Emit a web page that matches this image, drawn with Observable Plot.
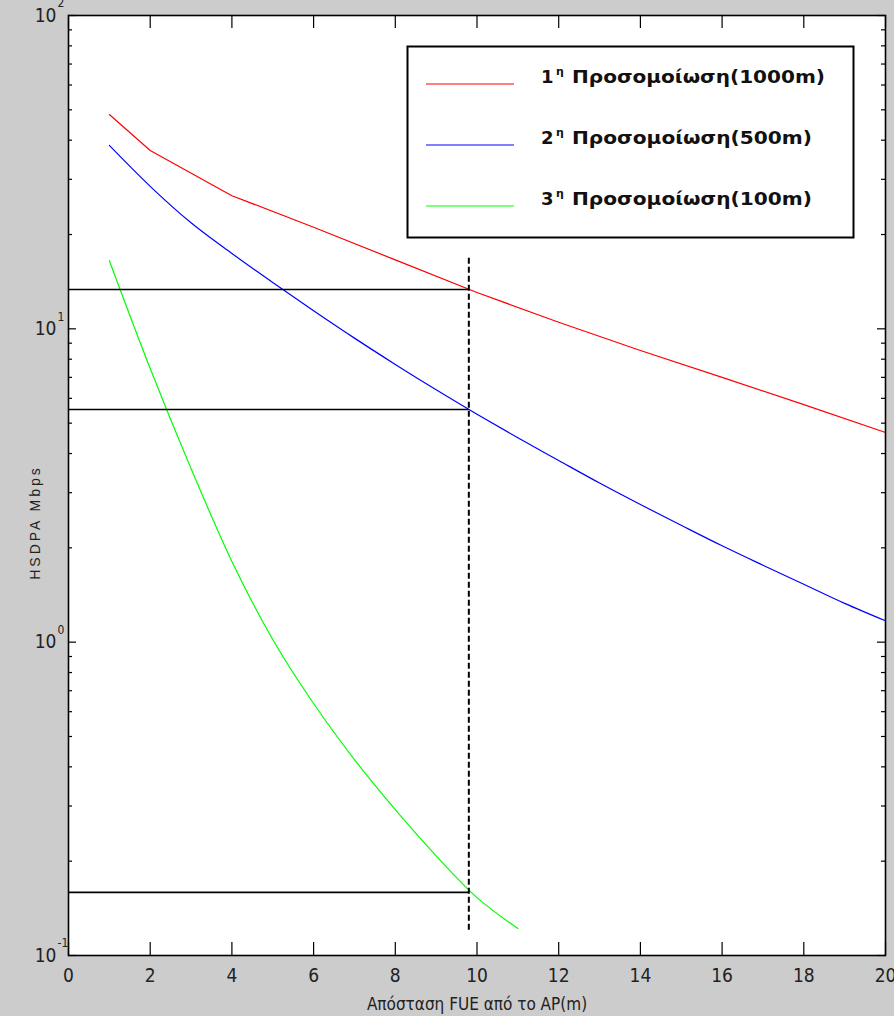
<!DOCTYPE html>
<html>
<head>
<meta charset="utf-8">
<script src="https://cdn.jsdelivr.net/npm/d3@7"></script>
<script src="https://cdn.jsdelivr.net/npm/@observablehq/plot@0.6"></script>
<style>
  html, body { margin: 0; padding: 0; background: #cccccc; }
  #wrap { position: relative; width: 894px; height: 1016px; overflow: hidden; }
</style>
</head>
<body>
<div id="wrap"></div>
<script>
// ---- data ----
const xTicks = [0, 2, 4, 6, 8, 10, 12, 14, 16, 18, 20];
const yMajor = [0.1, 1, 10, 100];
const yExponent = ["-1", "0", "1", "2"];
const yMinor = [0.2, 0.3, 0.4, 0.5, 0.6, 0.7, 0.8, 0.9,
                2, 3, 4, 5, 6, 7, 8, 9,
                20, 30, 40, 50, 60, 70, 80, 90];

const distance1000 = [1, 2, 4, 6, 8, 10, 12, 14, 16, 18, 20];
const sim1000 = [48.3, 37.1, 26.6, 21.1, 16.6, 13.06, 10.5, 8.53, 7.0, 5.73, 4.67];

const distance500 = [1, 2, 3, 4, 5, 6, 7, 8, 9, 10, 11, 12, 13, 14, 15, 16, 17, 18, 19, 20];
const sim500 = [38.5, 28.5, 21.8, 17.4, 14.05, 11.42, 9.34, 7.70, 6.39, 5.34,
                4.49, 3.80, 3.22, 2.75, 2.36, 2.03, 1.76, 1.53, 1.33, 1.17];

const distance100 = [1, 2, 3, 4, 5, 6, 7, 8, 9, 10, 11];
const sim100 = [16.5, 7.47, 3.58, 1.81, 1.02, 0.637, 0.422, 0.292, 0.208, 0.153, 0.122];

const refDistance = 9.8;
const refValues = [13.35, 5.53, 0.159];
const refSpan = [16.8, 0.118];

const legendNumbers = ["1", "2", "3"];
const legendSup = ["η", "η", "η"];
const legendNames = ["Προσομοίωση(1000m)", "Προσομοίωση(500m)", "Προσομοίωση(100m)"];
const seriesColors = ["#ff0000", "#0000ff", "#00ff00"];

const xLabel = "Απόσταση FUE από το AP(m)";
const yLabel = "HSDPA Mbps";

// ---- build ----
const toRows = (xs, ys) => xs.map((x, i) => ({x, y: ys[i]}));
const narrow = "'Liberation Sans Narrow', 'DejaVu Sans Condensed', 'Liberation Sans', Arial, sans-serif";

const W = 894, H = 1016, mT = 15, mL = 68, mR = 9, mB = 61;
const fw = W - mL - mR, fh = H - mT - mB;

const chart = Plot.plot({
  width: W, height: H,
  marginTop: mT, marginLeft: mL, marginRight: mR, marginBottom: mB,
  style: {background: "transparent", color: "black", overflow: "visible", fontFamily: narrow},
  x: {domain: [0, 20], axis: null},
  y: {type: "log", domain: [0.1, 100], axis: null},
  marks: [
    Plot.frame({fill: "white", stroke: null}),
    Plot.line(toRows(distance1000, sim1000), {x: "x", y: "y", stroke: seriesColors[0], strokeWidth: 1.2}),
    Plot.line(toRows(distance500, sim500), {x: "x", y: "y", stroke: seriesColors[1], strokeWidth: 1.2, curve: "monotone-x"}),
    Plot.line(toRows(distance100, sim100), {x: "x", y: "y", stroke: seriesColors[2], strokeWidth: 1.2, curve: "monotone-x"}),
    Plot.ruleY(refValues, {y: d => d, x1: 0, x2: refDistance, stroke: "black", strokeWidth: 1.6}),
    Plot.ruleX([refDistance], {x: d => d, y1: refSpan[0], y2: refSpan[1], stroke: "black", strokeWidth: 2, strokeDasharray: "6,3"}),
    // inward ticks (MATLAB style)
    Plot.tickX(xTicks, {x: d => d, insetTop: fh - 13, stroke: "black", strokeWidth: 1.2}),
    Plot.tickX(xTicks, {x: d => d, insetBottom: fh - 13, stroke: "black", strokeWidth: 1.2}),
    Plot.tickY(yMajor, {y: d => d, insetRight: fw - 8, stroke: "black", strokeWidth: 1.2}),
    Plot.tickY(yMajor, {y: d => d, insetLeft: fw - 8, stroke: "black", strokeWidth: 1.2}),
    Plot.tickY(yMinor, {y: d => d, insetRight: fw - 4, stroke: "black", strokeWidth: 1.2}),
    Plot.tickY(yMinor, {y: d => d, insetLeft: fw - 4, stroke: "black", strokeWidth: 1.2}),
    Plot.frame({stroke: "black", strokeWidth: 1.6}),
    // tick labels
    Plot.text(xTicks, {x: d => d, frameAnchor: "bottom", lineAnchor: "middle", dy: 20, text: d => String(d), fontSize: 19, fill: "#222"}),
    Plot.text(yMajor, {y: d => d, frameAnchor: "left", lineAnchor: "middle", dx: -12, text: () => "10", textAnchor: "end", fontSize: 19, fill: "#222"}),
    Plot.text(yMajor, {y: d => d, frameAnchor: "left", lineAnchor: "middle", dx: -11, dy: -12, text: (d, i) => yExponent[i], textAnchor: "start", fontSize: 12, fill: "#222"}),
    // axis titles
    Plot.text([xLabel], {frameAnchor: "bottom", lineAnchor: "middle", textAnchor: "middle", dy: 49, text: d => d, fontSize: 17, fill: "#222"}),
    Plot.text([yLabel], {frameAnchor: "left", lineAnchor: "middle", textAnchor: "middle", dx: -33, dy: 37, rotate: -90, text: d => d, fontSize: 14, fill: "#222", fontFamily: "'Liberation Sans', Arial, sans-serif"})
  ]
});

d3.select(chart).selectAll("text").filter(function() { return this.textContent === yLabel; })
  .attr("letter-spacing", 3);

const wrap = document.getElementById("wrap");
wrap.appendChild(chart);

// ---- legend overlay ----
const leg = d3.select(wrap).append("svg")
  .attr("width", W).attr("height", H)
  .style("position", "absolute").style("left", "0px").style("top", "0px");
leg.append("rect").attr("x", 407.5).attr("y", 46.5).attr("width", 446).attr("height", 191)
  .attr("fill", "white").attr("stroke", "black").attr("stroke-width", 2);
const rowY = [84, 145, 206];
const endX = [825, 812, 812];
legendNames.forEach((name, i) => {
  leg.append("line").attr("x1", 426).attr("x2", 514).attr("y1", rowY[i]).attr("y2", rowY[i])
    .attr("stroke", seriesColors[i]).attr("stroke-width", 1.2);
  const t = leg.append("text").attr("y", rowY[i] - 1)
    .attr("font-family", "'DejaVu Sans', Verdana, sans-serif").attr("font-weight", "bold")
    .attr("font-size", 18).attr("fill", "#111");
  t.append("tspan").attr("x", 541).text(legendNumbers[i]);
  t.append("tspan").attr("x", 556).attr("dy", -8).attr("font-size", 11).text(legendSup[i]);
  t.append("tspan").attr("x", 572).attr("dy", 8)
    .attr("textLength", endX[i] - 572).attr("lengthAdjust", "spacingAndGlyphs").text(name);
});
</script>
</body>
</html>
